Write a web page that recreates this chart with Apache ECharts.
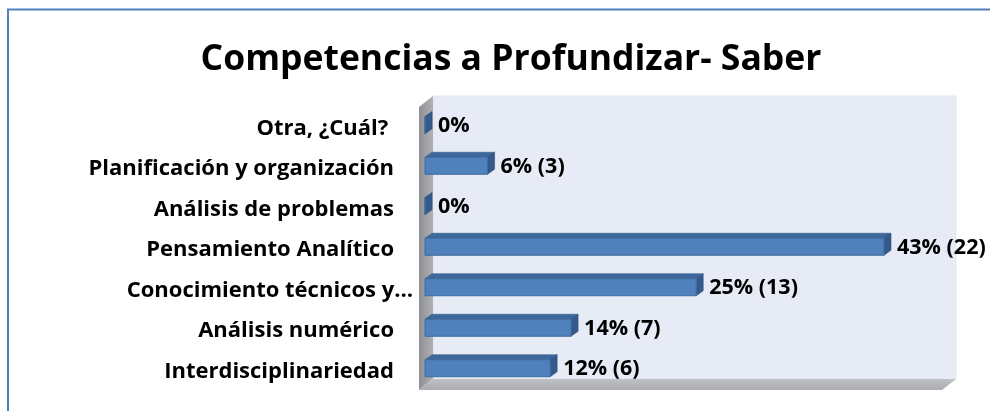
<!DOCTYPE html>
<html>
<head>
<meta charset="utf-8">
<script src="https://cdn.jsdelivr.net/npm/echarts@6/dist/echarts.min.js"></script>
<style>
  html, body { margin: 0; padding: 0; background: #fff; }
  #chart { width: 990px; height: 411px; }
</style>
</head>
<body>
<div id="chart"></div>
<script>
// categories from bottom to top (as in the reference)
const categories = [
    'Interdisciplinariedad',
    'Análisis numérico',
    'Conocimiento técnicos y…',
    'Pensamiento Analítico',
    'Análisis de problemas',
    'Planificación y organización',
    'Otra, ¿Cuál? '
];
const percents = [11.76, 13.73, 25.49, 43.14, 0, 5.88, 0];
const counts = [6, 7, 13, 22, 0, 3, 0];

const chart = echarts.init(document.getElementById('chart'));

// grid = front plane of the bars
const gx = 425, gy = 105, gw = 532, gh = 283.5;
// depth of walls and of bars
const wdx = 14, wdy = 11;
const bdx = 7, bdy = 5;

const fontFam = '"Open Sans", Lato, sans-serif';

function labelText(i) {
    const p = Math.round(percents[i]);
    return counts[i] > 0 ? p + '% (' + counts[i] + ')' : p + '%';
}

function renderBar(params, api) {
    const i = params.dataIndex;
    const start = api.coord([0, api.value(1)]);
    const end = api.coord([api.value(0), api.value(1)]);
    const band = api.size([0, 1])[1];
    const h = band * 0.42;
    const x0 = start[0], x1 = end[0];
    const y0 = end[1] - h / 2, y1 = end[1] + h / 2;
    return {
        type: 'group',
        children: [
            {
                type: 'polygon',
                shape: { points: [[x0, y0], [x0 + bdx, y0 - bdy], [x1 + bdx, y0 - bdy], [x1, y0]] },
                style: { fill: '#3E689D', stroke: '#365C8B', lineWidth: 0.6 }
            },
            {
                type: 'polygon',
                shape: { points: [[x1, y0], [x1 + bdx, y0 - bdy], [x1 + bdx, y1 - bdy], [x1, y1]] },
                style: { fill: '#34598A', stroke: '#2F527F', lineWidth: 0.6 }
            },
            {
                type: 'rect',
                shape: { x: x0, y: y0, width: x1 - x0, height: h },
                style: { fill: '#4F81BD', stroke: '#3F6B9E', lineWidth: 1 }
            },
            {
                type: 'text',
                x: x1 + bdx + 6,
                y: end[1] + 1,
                style: {
                    text: labelText(i),
                    fill: '#000',
                    font: 'bold 21.5px ' + fontFam,
                    verticalAlign: 'middle',
                    align: 'left'
                }
            }
        ]
    };
}

const backX0 = gx + 8, backX1 = gx + gw - 1;
const backY0 = gy - 9, backY1 = gy + gh - 9.5;

const option = {
    backgroundColor: '#fff',
    animation: false,
    title: {
        text: 'Competencias a Profundizar- Saber',
        left: 506,
        top: 37,
        textAlign: 'center',
        textStyle: { fontFamily: fontFam, fontWeight: 'bold', fontSize: 35.5, color: '#000' }
    },
    grid: { left: gx, top: gy, width: gw, height: gh },
    xAxis: {
        type: 'value', min: 0, max: 50,
        show: false
    },
    yAxis: {
        type: 'category',
        data: categories,
        axisLine: { show: false },
        axisTick: { show: false },
        splitLine: { show: false },
        axisLabel: {
            margin: 12,
            formatter: (v) => v.endsWith('…') ? '{e|' + v + '}' : '{n|' + v + '}',
            rich: {
                n: { fontFamily: fontFam, fontWeight: 'bold', fontSize: 22, color: '#000', padding: [6, 19, 0, 0] },
                e: { fontFamily: fontFam, fontWeight: 'bold', fontSize: 22, color: '#000', padding: [6, 0, 0, 0] }
            }
        }
    },
    graphic: [
        // outer frame
        {
            type: 'rect', z: -10,
            shape: { x: 8, y: 9.5, width: 1100, height: 500 },
            style: { fill: 'none', stroke: '#4F81BD', lineWidth: 2 }
        },
        // back wall
        {
            type: 'rect', z: -5,
            shape: { x: backX0, y: backY0, width: backX1 - backX0, height: backY1 - backY0 },
            style: { fill: '#E7EBF5', stroke: '#E2E6EE', lineWidth: 1 }
        },
        // left wall
        {
            type: 'polygon', z: -5,
            shape: { points: [[backX0 - wdx, backY0 + wdy], [backX0, backY0], [backX0, backY1], [backX0 - wdx, backY1 + wdy]] },
            style: {
                fill: new echarts.graphic.LinearGradient(0, 0, 1, 0, [
                    { offset: 0, color: '#8E8F92' }, { offset: 1, color: '#AFB1B4' }
                ])
            }
        },
        // floor
        {
            type: 'polygon', z: -5,
            shape: { points: [[backX0 - wdx, backY1 + wdy], [backX0, backY1], [backX1, backY1], [backX1 - wdx, backY1 + wdy]] },
            style: {
                fill: new echarts.graphic.LinearGradient(0, 0, 0, 1, [
                    { offset: 0, color: '#BFC1C4' }, { offset: 1, color: '#A9ABAF' }
                ])
            }
        }
    ],
    series: [{
        type: 'custom',
        renderItem: renderBar,
        clip: false,
        data: percents.map((p, i) => [p, i])
    }]
};

chart.setOption(option);
</script>
</body>
</html>
